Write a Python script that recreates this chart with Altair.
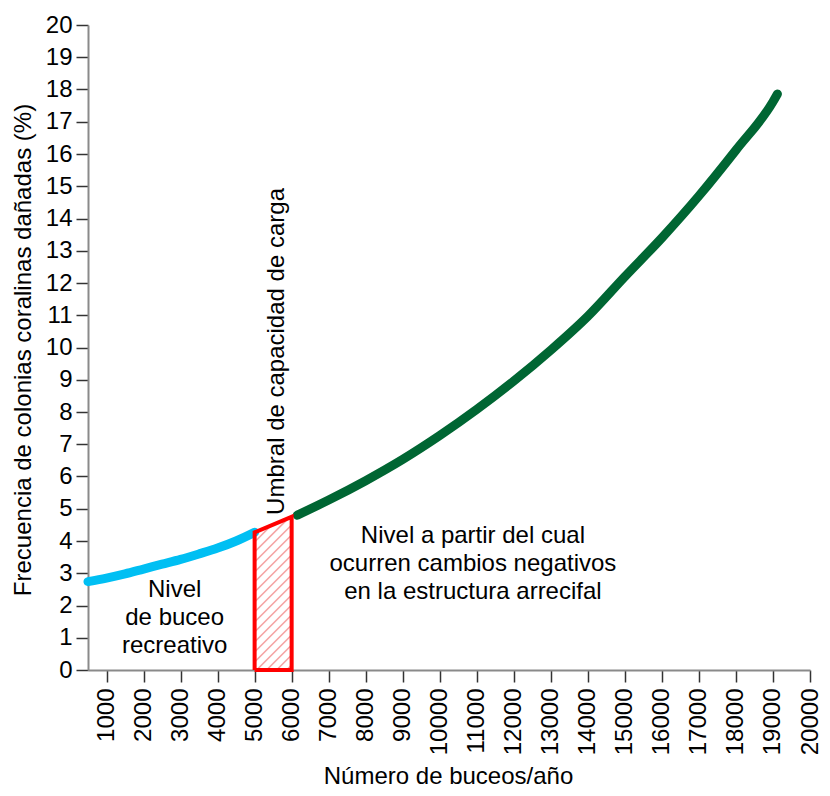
import altair as alt
import pandas as pd

# ---------------- data ----------------
x_ticks = list(range(1000, 20001, 1000))
y_ticks = list(range(0, 21))

blue_x = [500, 1000, 1500, 2000, 2500, 3000, 3500, 4000, 4500, 5000]
blue_y = [2.74, 2.85, 2.98, 3.13, 3.28, 3.43, 3.60, 3.78, 4.00, 4.27]

green_x = [6150, 7000, 8000, 9000, 10000, 11000, 12000, 13000, 14000,
           15000, 16000, 17000, 18000, 19000, 19120]
green_y = [4.80, 5.27, 5.87, 6.53, 7.27, 8.08, 8.96, 9.92, 10.97,
           12.20, 13.40, 14.70, 16.12, 17.62, 17.86]

zone_x = [5000, 6000]
zone_top = [4.27, 4.75]

# ---------------- layout ----------------
X_DOMAIN = [500, 20000]
Y_DOMAIN = [0, 20]
W, H = 722, 645
FONT = "Liberation Sans"

# hatch lines (45 degrees, derived from the zone values)
px_x = W / (X_DOMAIN[1] - X_DOMAIN[0])
px_y = H / (Y_DOMAIN[1] - Y_DOMAIN[0])
rise = (zone_x[1] - zone_x[0]) * px_x / px_y
top_rise = zone_top[1] - zone_top[0]
step = 10 / px_y
hatch_rows = []
y0 = -rise + step * 0.5
while y0 < zone_top[0]:
    t_lo = max(0.0, -y0 / rise)
    t_hi = min(1.0, (zone_top[0] - y0) / (rise - top_rise))
    if t_hi > t_lo:
        hatch_rows.append({
            "x": zone_x[0] + (zone_x[1] - zone_x[0]) * t_lo,
            "y": y0 + rise * t_lo,
            "x2": zone_x[0] + (zone_x[1] - zone_x[0]) * t_hi,
            "y2": y0 + rise * t_hi,
        })
    y0 += step
hatch_df = pd.DataFrame(hatch_rows)

poly_df = pd.DataFrame({
    "x": [zone_x[0], zone_x[0], zone_x[1], zone_x[1], zone_x[0]],
    "y": [0, zone_top[0], zone_top[1], 0, 0],
    "o": [0, 1, 2, 3, 4],
})
blue_df = pd.DataFrame({"x": blue_x, "y": blue_y})
green_df = pd.DataFrame({"x": green_x, "y": green_y})

xs = alt.Scale(domain=X_DOMAIN, nice=False, zero=False)
ys = alt.Scale(domain=Y_DOMAIN, nice=False)

x_axis = alt.Axis(
    values=x_ticks, format="d", labelAngle=270, labelFontSize=24, labelFont=FONT,
    labelColor="black", tickSize=12, labelPadding=6, grid=False,
    title="Número de buceos/año", titleFontSize=24, titleFont=FONT,
    titleFontWeight="normal", titleColor="black",
    titleBaseline="alphabetic", titleY=113, titleX=W / 2 - 1,
    domainColor="#8a8a8a", domainWidth=2, tickColor="#333333", tickWidth=1.5,
    labelOverlap=False, labelBound=False, labelFlush=False,
)
y_axis = alt.Axis(
    values=y_ticks, format="d", labelFontSize=24, labelFont=FONT, labelColor="black",
    tickSize=12, labelPadding=4, grid=False,
    title="Frecuencia de colonias coralinas dañadas (%)", titleFontSize=24,
    titleFont=FONT, titleFontWeight="normal", titleColor="black",
    titleAngle=270, titleBaseline="alphabetic", titleAlign="center",
    titleX=-58, titleY=H / 2 + 2,
    domainColor="#8a8a8a", domainWidth=2, tickColor="#333333", tickWidth=1.5,
    labelOverlap=False, labelBound=False, labelFlush=False,
)

X = alt.X("x:Q", scale=xs, axis=x_axis)
Y = alt.Y("y:Q", scale=ys, axis=y_axis)

hatch = alt.Chart(hatch_df).mark_rule(color="#f5a3a3", strokeWidth=1.6).encode(
    x=X, y=Y, x2="x2:Q", y2="y2:Q",
)

blue = alt.Chart(blue_df).mark_line(
    color="#00bff3", strokeWidth=9, strokeCap="round", interpolate="monotone"
).encode(x=X, y=Y)

green = alt.Chart(green_df).mark_line(
    color="#006633", strokeWidth=9, strokeCap="round", interpolate="monotone"
).encode(x=X, y=Y)

outline = alt.Chart(poly_df).mark_line(
    color="#ff0000", strokeWidth=4, strokeJoin="miter"
).encode(x=X, y=Y, order="o:Q")

def label(text, x, y, **kw):
    return alt.Chart(pd.DataFrame({"t": [text]})).mark_text(
        font=FONT, fontSize=24, color="black", lineBreak="\n", lineHeight=28, **kw
    ).encode(
        x=alt.datum(x, scale=xs, axis=x_axis),
        y=alt.datum(y, scale=ys, axis=y_axis),
        text="t:N",
    )

t_umbral = label("Umbral de capacidad de carga", 5790, 4.81,
                 angle=270, align="left", baseline="alphabetic")
t_buceo = label("Nivel\nde buceo\nrecreativo", 2840, 2.26,
                align="center", baseline="alphabetic")
t_nivel = label("Nivel a partir del cual\nocurren cambios negativos\nen la estructura arrecifal",
                10896, 3.94, align="center", baseline="alphabetic")

chart = alt.layer(
    hatch, blue, green, outline, t_umbral, t_buceo, t_nivel
).properties(
    width=W, height=H,
    autosize=alt.AutoSizeParams(type="none"),
    padding={"left": 80, "top": 17, "right": 12, "bottom": 117},
    background="white",
).configure_view(strokeWidth=0)

chart.save("out.html", embed_options={"renderer": "svg", "actions": False})
